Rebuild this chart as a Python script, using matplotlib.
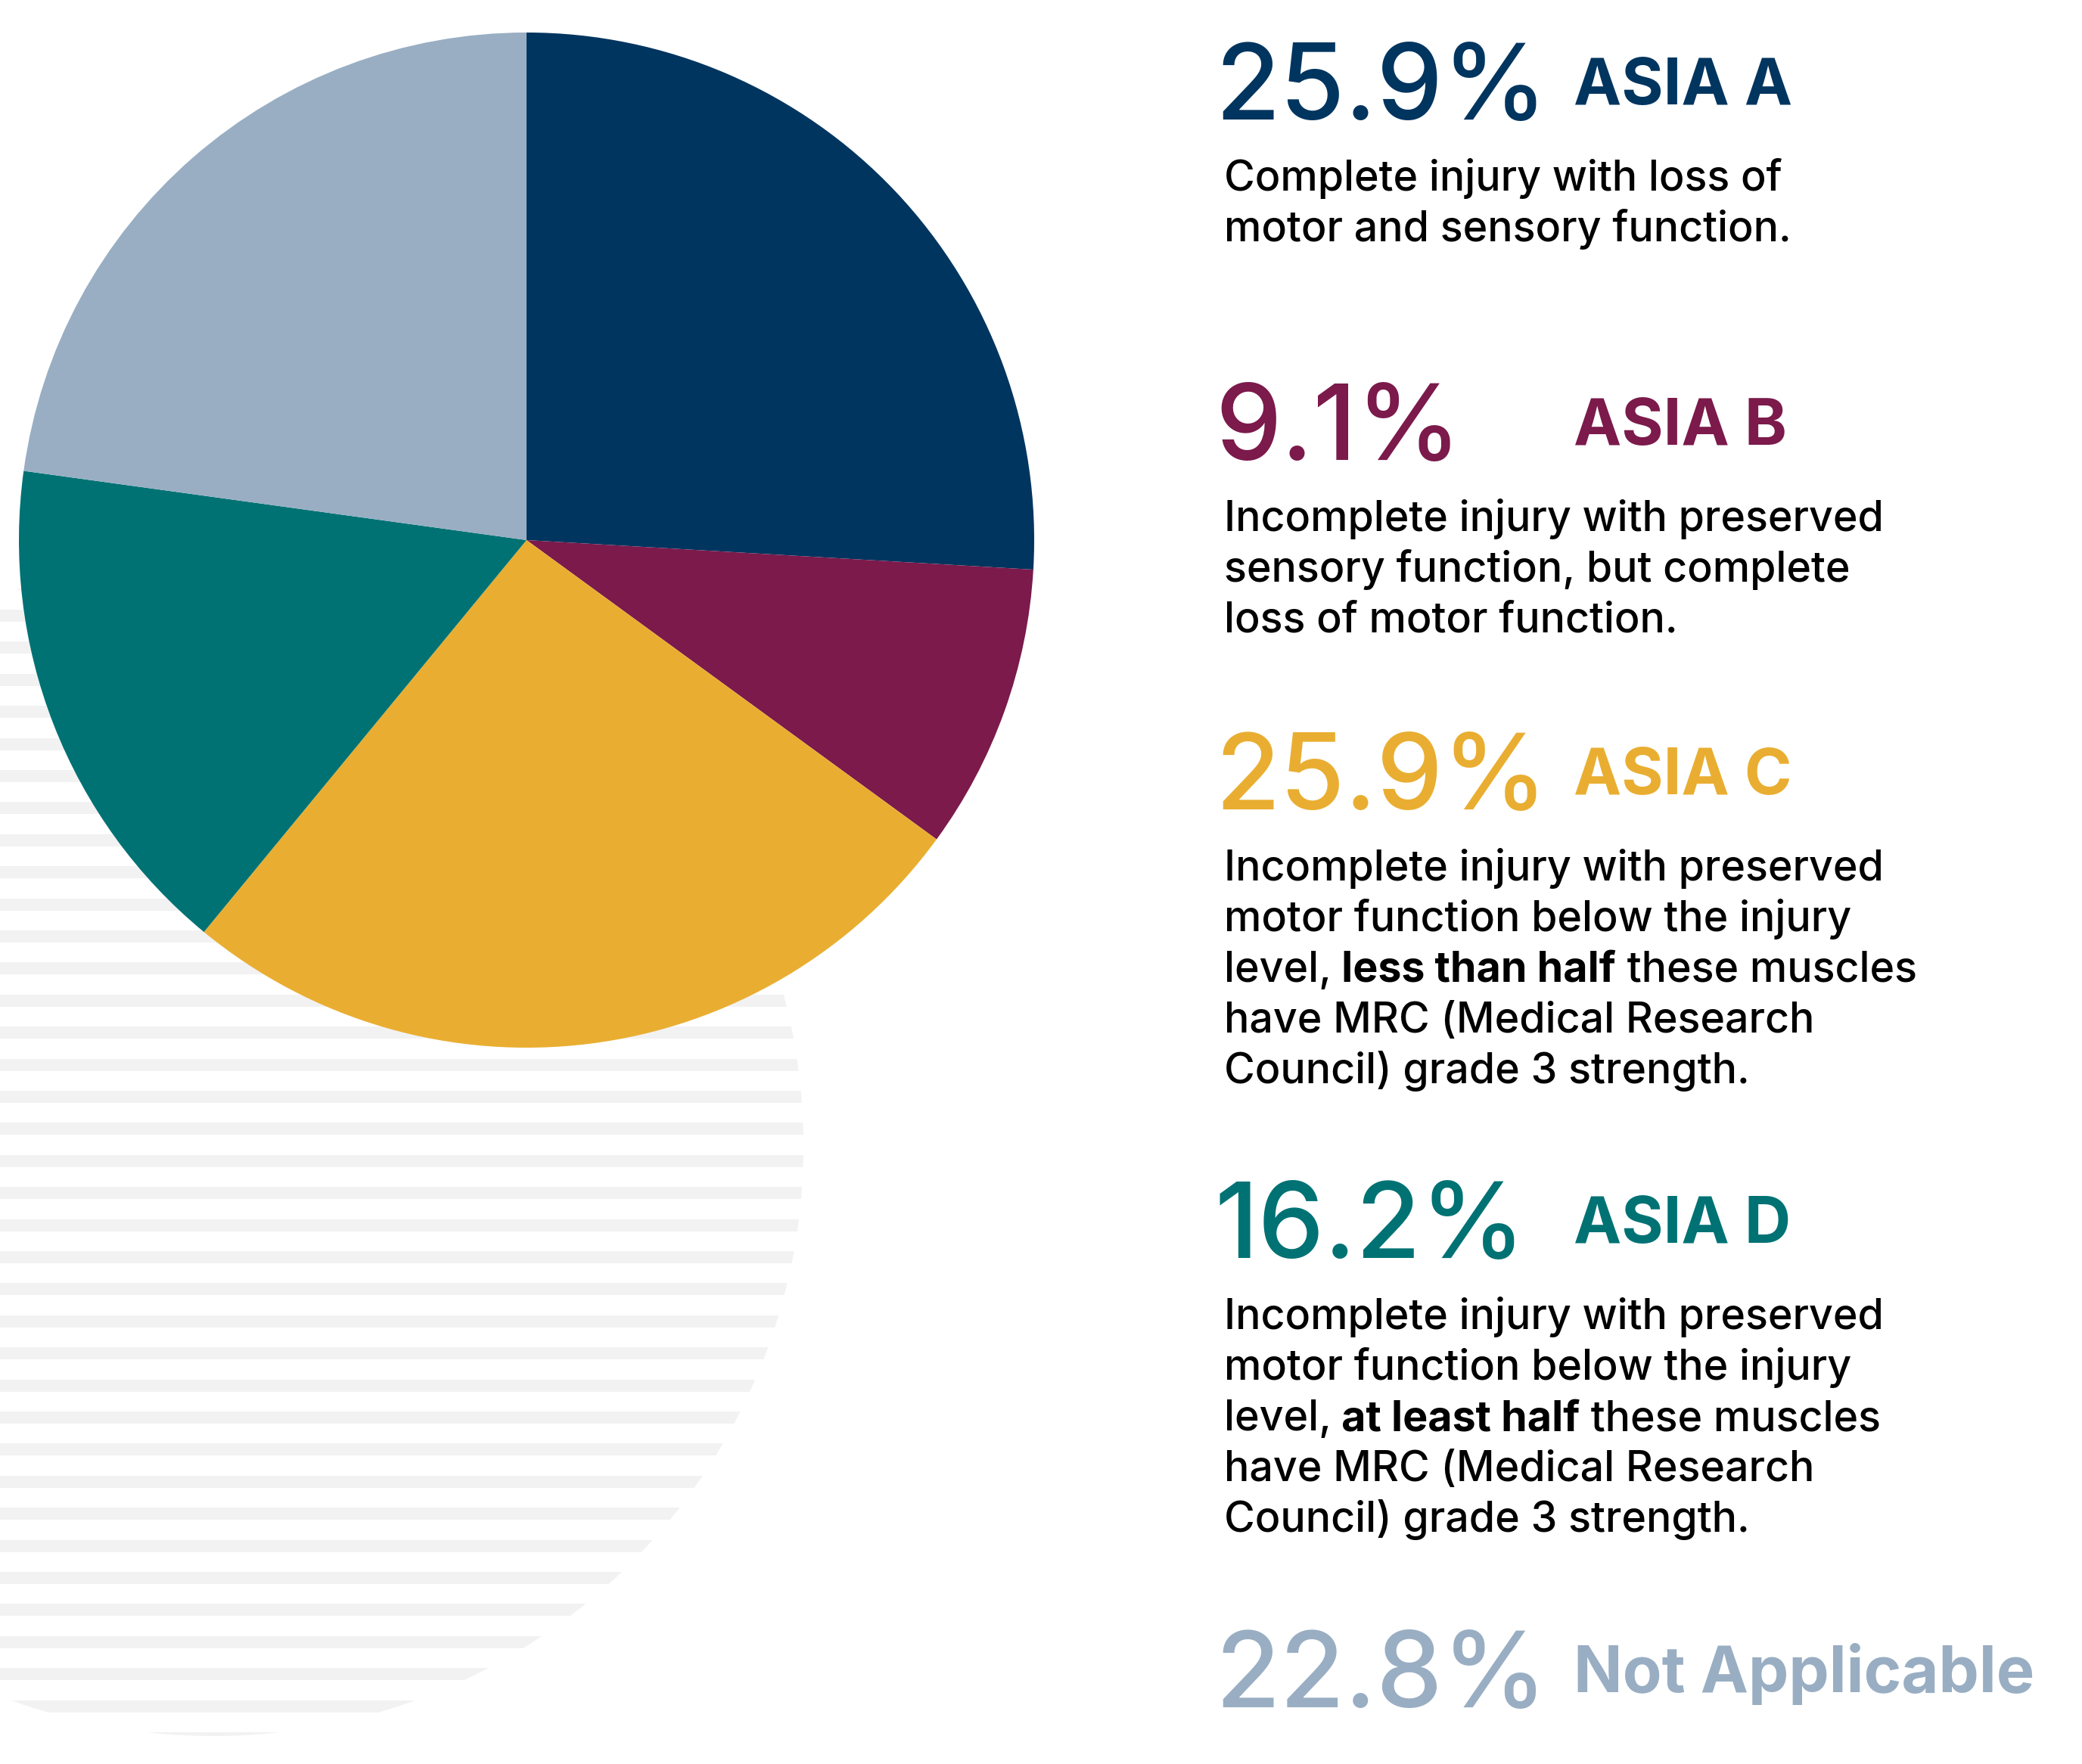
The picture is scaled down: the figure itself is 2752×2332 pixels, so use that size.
import matplotlib
matplotlib.use("Agg")
import matplotlib.pyplot as plt
from matplotlib.patches import Circle
import numpy as np

# ---- data ----
labels = ['ASIA A', 'ASIA B', 'ASIA C', 'ASIA D', 'Not Applicable']
pct = [25.9, 9.1, 25.9, 16.2, 22.8]
colors = ['#00355f', '#7b1a4b', '#e9ae31', '#007274', '#99aec3']

# description lines; each line is a list of (text, bold) segments
desc_a = [[('Complete injury with loss of', False)],
          [('motor and sensory function.', False)]]
desc_b = [[('Incomplete injury with preserved', False)],
          [('sensory function, but complete', False)],
          [('loss of motor function.', False)]]
desc_c = [[('Incomplete injury with preserved', False)],
          [('motor function below the injury', False)],
          [('level,', False), (' less than half', True), (' these muscles', False)],
          [('have MRC (Medical Research', False)],
          [('Council) grade 3 strength.', False)]]
desc_d = [[('Incomplete injury with preserved', False)],
          [('motor function below the injury', False)],
          [('level,', False), (' at least half', True), (' these muscles', False)],
          [('have MRC (Medical Research', False)],
          [('Council) grade 3 strength.', False)]]
descs = [desc_a, desc_b, desc_c, desc_d, []]

W, H = 2752, 2332
FONT = ['Inter', 'DejaVu Sans']

fig = plt.figure(figsize=(W / 100, H / 100), dpi=100)
ax = fig.add_axes([0, 0, 1, 1])

# striped background circle
cx, cy, r = 282, H - 1515, 780
clip = Circle((cx, cy), r, transform=ax.transData)
tops = np.arange(806 - 42.4 * 3, 2300, 42.4)
for t in tops:
    bar = ax.barh(H - t - 8, 1200, height=16, left=-20, color='#f2f2f2', zorder=1)
    for b in bar:
        b.set_clip_path(clip)

# pie
ax.pie(pct, colors=colors, startangle=90, counterclock=False,
       center=(696, H - 714), radius=671, wedgeprops=dict(linewidth=0, zorder=2))

ax.set_xlim(0, W)
ax.set_ylim(0, H)
ax.set_aspect('equal')
ax.axis('off')

# text blocks
pct_base = [158, 608, 1070, 1663, 2257]
for i in range(len(labels)):
    yb = pct_base[i]
    ax.text(1606, H - yb, f'{pct[i]}%', color=colors[i], fontsize=100,
            family=FONT, fontweight='medium', va='baseline', ha='left')
    ax.text(2080, H - yb + 20, labels[i], color=colors[i], fontsize=61,
            family=FONT, fontweight='bold', va='baseline', ha='left')
    for j, line in enumerate(descs[i]):
        y = H - (yb + 94 + 67 * j)
        prev = None
        for seg, bold in line:
            w = 'bold' if bold else 'medium'
            if prev is None:
                prev = ax.text(1618, y, seg, color='black', fontsize=40,
                               family=FONT, fontweight=w, va='baseline', ha='left')
            else:
                prev = ax.annotate(seg, xy=(1, 0), xycoords=prev, color='black',
                                   fontsize=40, family=FONT, fontweight=w,
                                   va='bottom', ha='left')

fig.savefig('out.png', dpi=100, facecolor='white')
